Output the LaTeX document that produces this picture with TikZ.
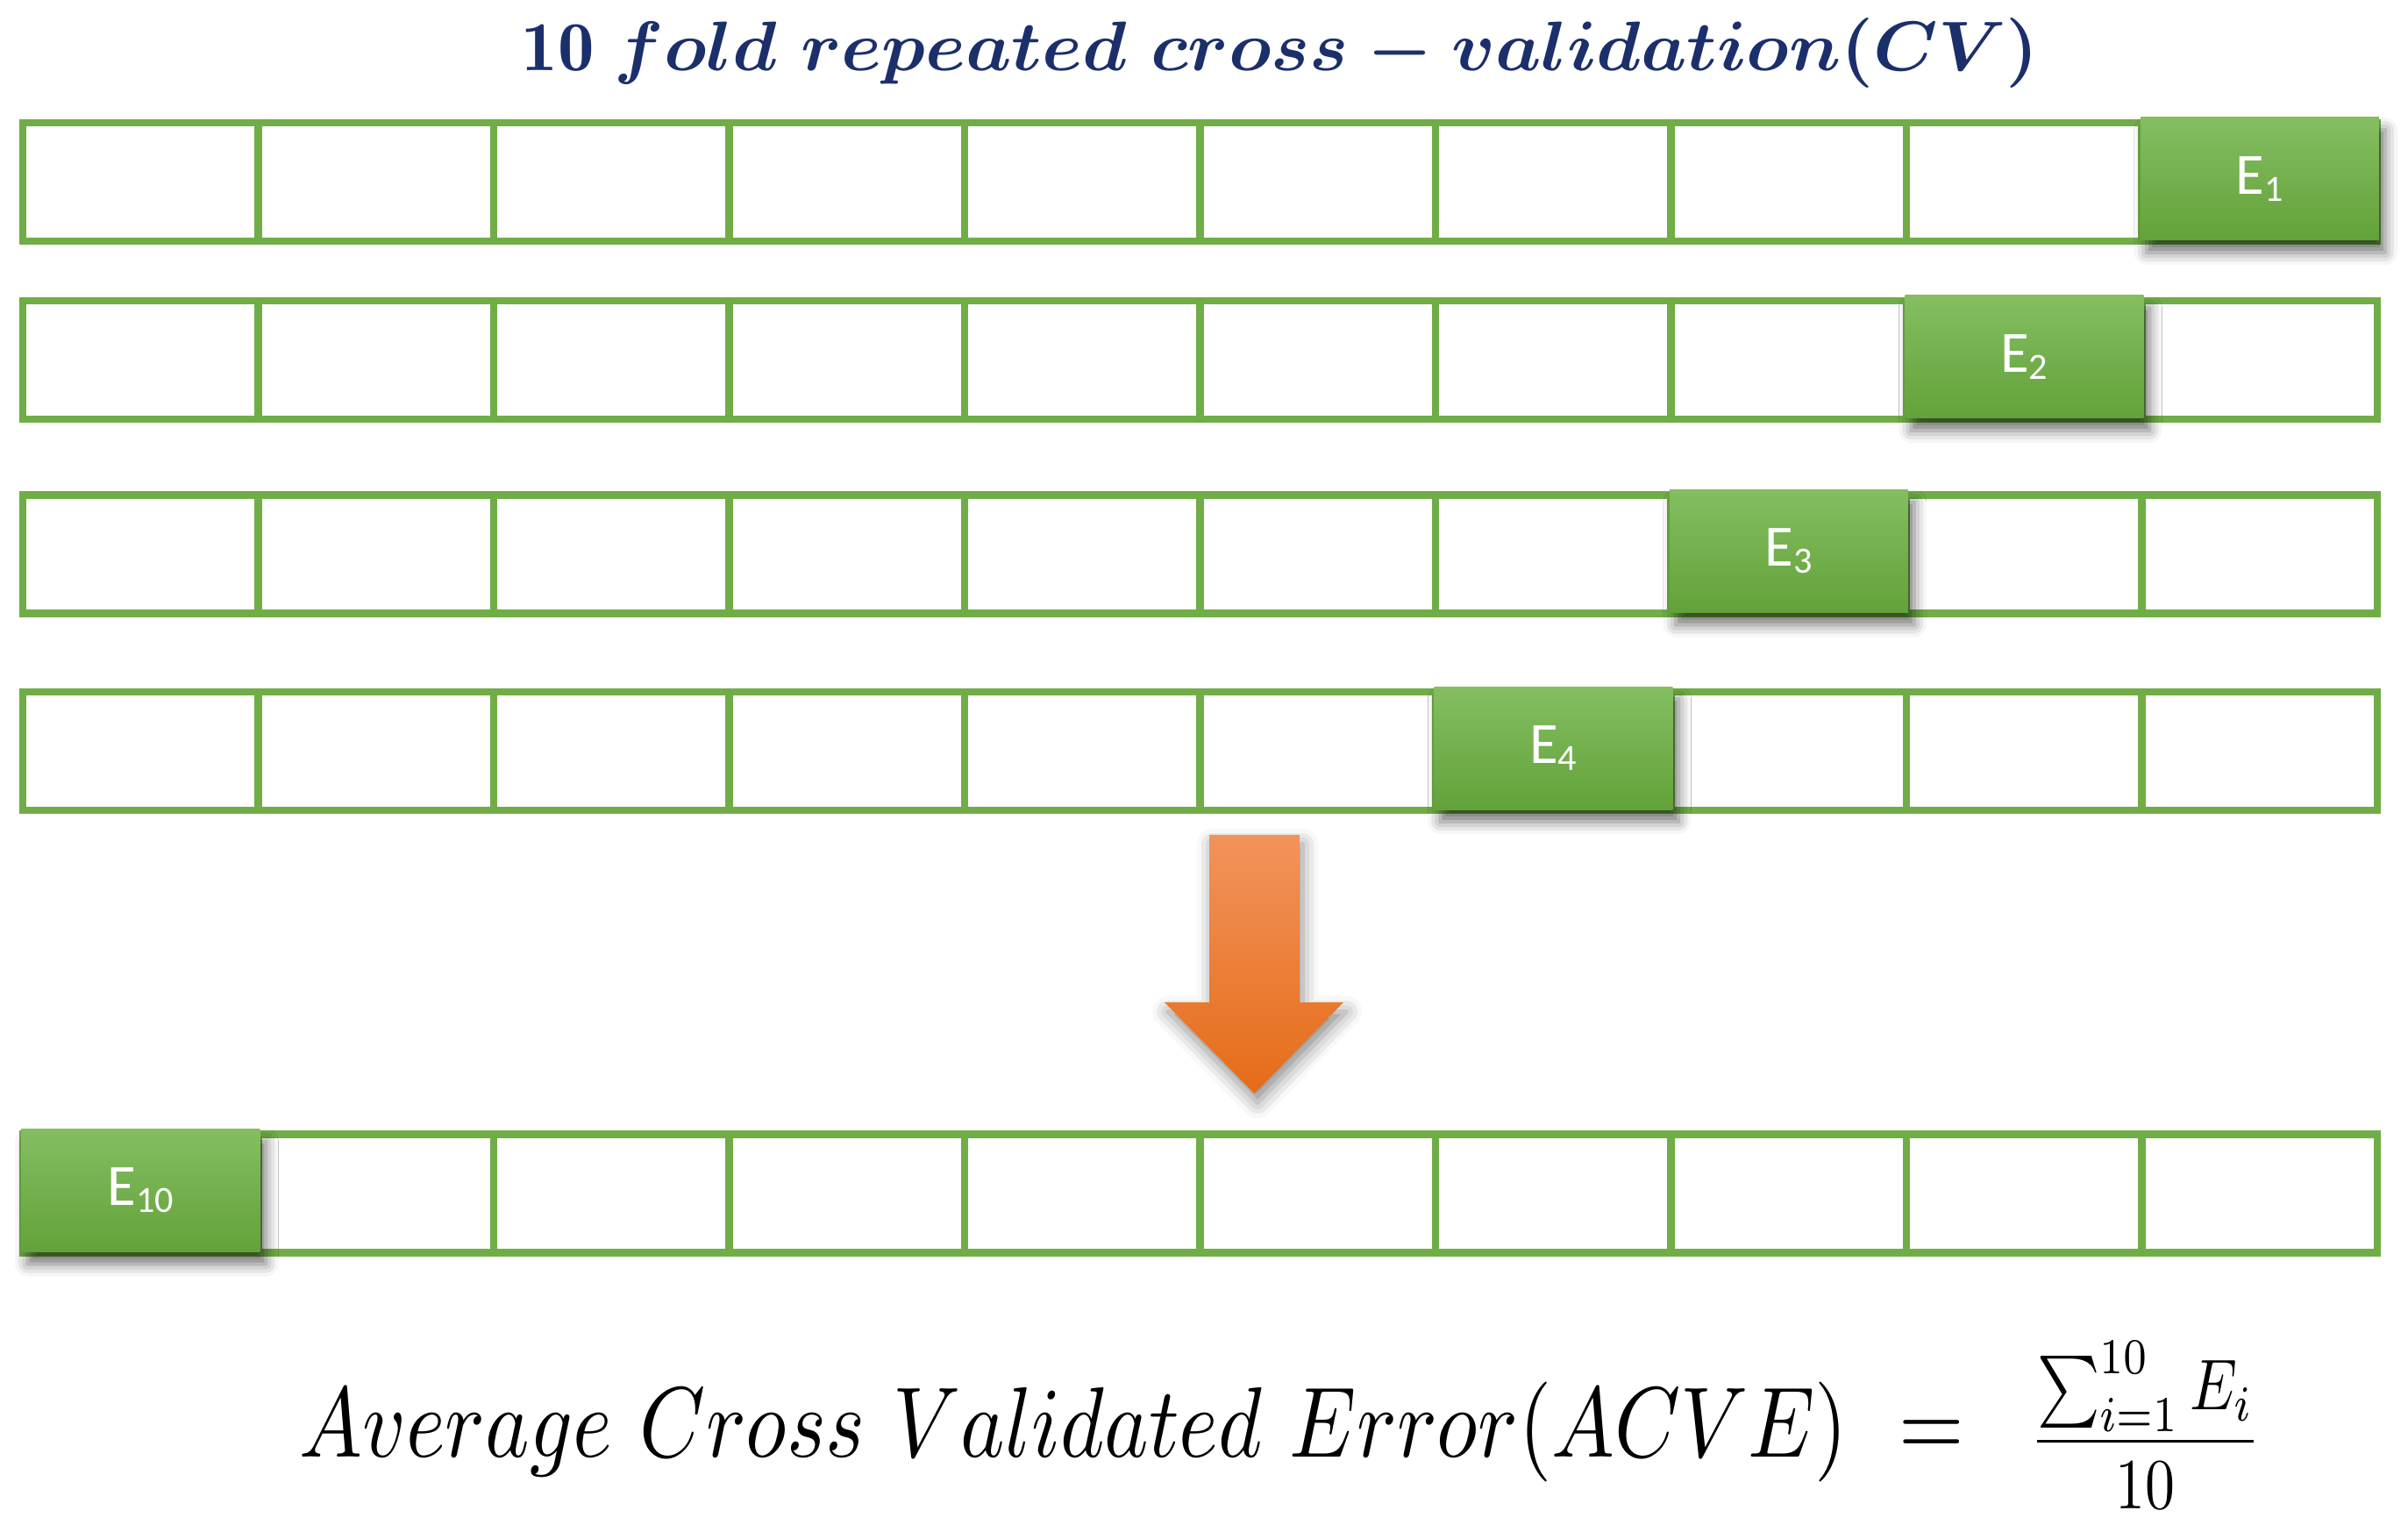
\documentclass[tikz,border=0pt]{standalone}
\usepackage{fontspec}
\usepackage{amsmath}
\usepackage{graphicx}
\newfontfamily\elabfont{Carlito}
\usetikzlibrary{shadows.blur}
\definecolor{grn}{HTML}{70AD47}
\definecolor{grntop}{HTML}{84BE61}
\definecolor{grnbot}{HTML}{63A23A}
\definecolor{orgtop}{HTML}{F2935C}
\definecolor{orgbot}{HTML}{E56C17}
\definecolor{navy}{HTML}{1B2F6B}
\tikzset{
  cell/.style={draw=grn, line width=2.3pt, fill=white, minimum width=2.685cm, minimum height=1.35cm, inner sep=0pt, outer sep=0pt},
  errbox/.style={top color=grntop, bottom color=grnbot, minimum width=2.72cm, minimum height=1.40cm, inner sep=0pt, text=white,
    font=\elabfont\fontsize{19}{21}\selectfont,
    blur shadow={shadow xshift=2pt, shadow yshift=-4pt, shadow blur radius=4pt, shadow opacity=55}},
  arrowshape/.style={top color=orgtop, bottom color=orgbot, draw=none,
    blur shadow={shadow xshift=1pt, shadow yshift=-3pt, shadow blur radius=5pt, shadow opacity=45}},
}
\newcommand{\esub}[2]{#1\raisebox{-0.25ex}{\fontsize{12}{12}\selectfont #2}}
\begin{document}
\begin{tikzpicture}[x=1cm,y=-1cm]
\useasboundingbox (0,0) rectangle (27.46,17.46);
% title
\node[text=navy, inner sep=0pt] (title) at (14.6,0.60)
  {\resizebox*{17.3cm}{0.80cm}{$\mathbf{10}\;\boldsymbol{fold\ repeated\ cross - validation(CV)}$}};
% cells
\foreach \r/\y in {1/2.075,2/4.105,3/6.32,4/8.565,5/13.61}{
  \foreach \c in {1,...,10}{
    \node[cell] (r\r c\c) at ({0.26+2.685*(\c-0.5)},\y) {};
  }
}
% error boxes
\node[errbox] (e1) at ([yshift=1pt]r1c10) {\esub{E}{1}};
\node[errbox] (e2) at ([yshift=1pt]r2c9) {\esub{E}{2}};
\node[errbox] (e3) at ([yshift=1pt]r3c8) {\esub{E}{3}};
\node[errbox] (e4) at ([yshift=1pt]r4c7) {\esub{E}{4}};
\node[errbox] (e10) at ([yshift=1pt]r5c1) {\esub{E}{10}};
% block arrow
\coordinate (atop) at (14.305,9.52);
\coordinate (atip) at (14.305,12.47);
\path[arrowshape] (13.79,9.52) -- (14.82,9.52) -- (14.82,11.43) -- (15.32,11.43) -- (atip) -- (13.28,11.43) -- (13.79,11.43) -- cycle;
% formula
\node[inner sep=0pt] (acve) at (12.91,16.33)
  {\resizebox*{18.98cm}{1.14cm}{$Average\ Cross\ Validated\ Error(ACVE)\ =$}};
\node[inner sep=0pt] (frac) at (24.465,16.25)
  {\resizebox*{2.63cm}{1.91cm}{$\dfrac{\textstyle\sum_{i=1}^{10}E_i}{10}$}};
\end{tikzpicture}
\end{document}
